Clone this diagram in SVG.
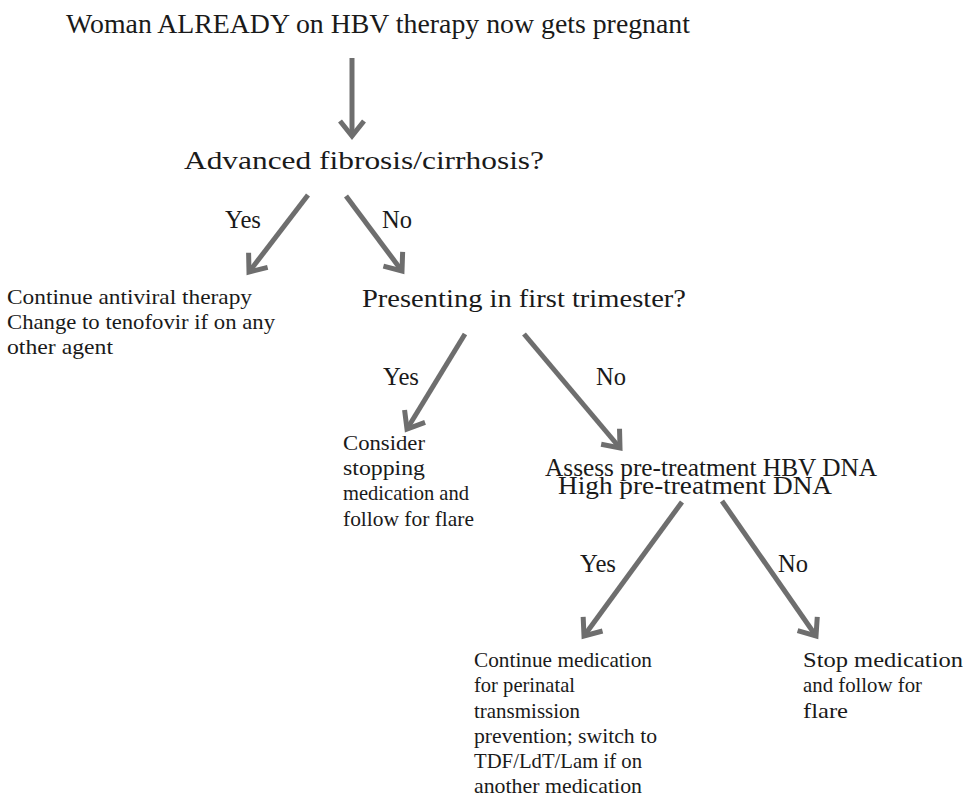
<svg xmlns="http://www.w3.org/2000/svg" width="967" height="798" viewBox="0 0 967 798">
<defs>
<style>
text{font-family:"Liberation Serif","DejaVu Serif",serif;fill:#1a1a1a}
.h{font-size:28px}
.q{font-size:26px}
.l{font-size:25px}
.b{font-size:21px}
.c line{stroke:#6e6e6e;stroke-width:5;marker-end:url(#ah)}
</style>
<marker id="ah" markerUnits="userSpaceOnUse" markerWidth="40" markerHeight="40" viewBox="-20 -20 40 40" refX="0" refY="0" orient="auto">
<path d="M-15,-12 L0,0 L-15,12" fill="none" stroke="#6e6e6e" stroke-width="5" stroke-linejoin="miter"/>
</marker>
</defs>
<rect width="967" height="798" fill="#fff"/>
<g id="connectors" class="c">
<line x1="352" y1="58" x2="352" y2="136"/>
<line x1="308" y1="195" x2="249" y2="272"/>
<line x1="346" y1="196" x2="402" y2="271"/>
<line x1="465" y1="334" x2="407" y2="429"/>
<line x1="524" y1="334" x2="620" y2="448"/>
<line x1="682" y1="502" x2="584" y2="636"/>
<line x1="722" y1="501" x2="816" y2="636"/>
</g>
<g id="start"><text class="h" x="66" y="33" textLength="624" lengthAdjust="spacingAndGlyphs">Woman ALREADY on HBV therapy now gets pregnant</text></g>
<g id="q-fibrosis"><text class="q" x="184" y="169" textLength="360" lengthAdjust="spacingAndGlyphs">Advanced fibrosis/cirrhosis?</text></g>
<g id="lbl-yes1"><text class="l" x="225" y="228" textLength="36" lengthAdjust="spacingAndGlyphs">Yes</text></g>
<g id="lbl-no1"><text class="l" x="382" y="228" textLength="30" lengthAdjust="spacingAndGlyphs">No</text></g>
<g id="continue-antiviral">
<text class="b" x="7" y="304" textLength="245" lengthAdjust="spacingAndGlyphs">Continue antiviral therapy</text>
<text class="b" x="7" y="329" textLength="268" lengthAdjust="spacingAndGlyphs">Change to tenofovir if on any</text>
<text class="b" x="7" y="354" textLength="106" lengthAdjust="spacingAndGlyphs">other agent</text>
</g>
<g id="q-trimester"><text class="q" x="362" y="307" textLength="324" lengthAdjust="spacingAndGlyphs">Presenting in first trimester?</text></g>
<g id="lbl-yes2"><text class="l" x="383" y="385" textLength="36" lengthAdjust="spacingAndGlyphs">Yes</text></g>
<g id="lbl-no2"><text class="l" x="596" y="385" textLength="30" lengthAdjust="spacingAndGlyphs">No</text></g>
<g id="consider-stopping">
<text class="b" x="343" y="450" textLength="82" lengthAdjust="spacingAndGlyphs">Consider</text>
<text class="b" x="343" y="475" textLength="82" lengthAdjust="spacingAndGlyphs">stopping</text>
<text class="b" x="343" y="500" textLength="126" lengthAdjust="spacingAndGlyphs">medication and</text>
<text class="b" x="343" y="526" textLength="131" lengthAdjust="spacingAndGlyphs">follow for flare</text>
</g>
<g id="q-dna">
<text class="q" x="545" y="476" textLength="332" lengthAdjust="spacingAndGlyphs">Assess pre-treatment HBV DNA</text>
<text class="q" x="558" y="494" textLength="274" lengthAdjust="spacingAndGlyphs">High pre-treatment DNA</text>
</g>
<g id="lbl-yes3"><text class="l" x="580" y="572" textLength="36" lengthAdjust="spacingAndGlyphs">Yes</text></g>
<g id="lbl-no3"><text class="l" x="778" y="572" textLength="30" lengthAdjust="spacingAndGlyphs">No</text></g>
<g id="continue-medication">
<text class="b" x="474" y="667" textLength="178" lengthAdjust="spacingAndGlyphs">Continue medication</text>
<text class="b" x="474" y="692" textLength="101" lengthAdjust="spacingAndGlyphs">for perinatal</text>
<text class="b" x="474" y="718" textLength="106" lengthAdjust="spacingAndGlyphs">transmission</text>
<text class="b" x="474" y="743" textLength="183" lengthAdjust="spacingAndGlyphs">prevention; switch to</text>
<text class="b" x="474" y="768" textLength="168" lengthAdjust="spacingAndGlyphs">TDF/LdT/Lam if on</text>
<text class="b" x="474" y="793" textLength="168" lengthAdjust="spacingAndGlyphs">another medication</text>
</g>
<g id="stop-medication">
<text class="b" x="803" y="667" textLength="160" lengthAdjust="spacingAndGlyphs">Stop medication</text>
<text class="b" x="803" y="692" textLength="119" lengthAdjust="spacingAndGlyphs">and follow for</text>
<text class="b" x="803" y="718" textLength="45" lengthAdjust="spacingAndGlyphs">flare</text>
</g>
</svg>
